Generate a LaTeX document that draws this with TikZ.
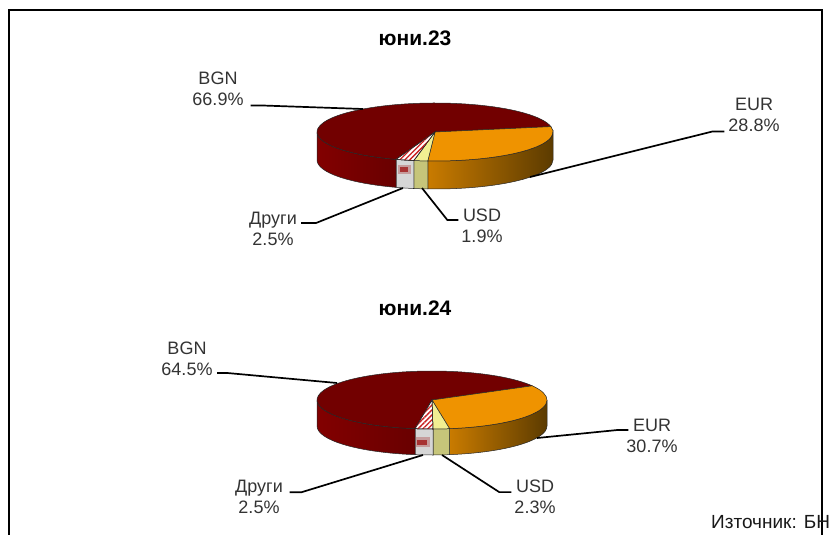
\documentclass[tikz,border=0pt]{standalone}
\usepackage{fontspec}
\setmainfont{Liberation Sans}
\usetikzlibrary{patterns.meta}

\definecolor{bgnTop}{HTML}{720000}
\definecolor{bgnSideL}{HTML}{820000}
\definecolor{bgnSideR}{HTML}{690000}
\definecolor{eurTop}{HTML}{EF9300}
\definecolor{eurSideL}{HTML}{C97B00}
\definecolor{eurSideR}{HTML}{5C3B00}
\definecolor{usdTop}{HTML}{F1EF92}
\definecolor{usdSide}{HTML}{C6C57A}
\definecolor{othSide}{HTML}{D6D6D6}
\definecolor{othHatch}{HTML}{C82020}
\definecolor{othBlob}{HTML}{A01818}
\definecolor{labelGray}{HTML}{333333}

\tikzset{
	leader/.style = {line width = 1.7pt, black},
	slice edge/.style = {draw = black!85, line width = 0.5pt},
	pct/.style = {font = \fontsize{18}{21}\selectfont, text = labelGray, align = center, inner sep = 0pt},
	title/.style = {font = \fontsize{21}{24}\selectfont\bfseries, inner sep = 0pt}
}

% side wall and top face of one slice (angles run clockwise on screen)
\newcommand{\pieSide}[3]{%
	\path [slice edge, #3] ({\pcx + \prx * cos(#1)}, {\pcy + \pry * sin(#1)})
		arc [start angle = #1, end angle = #2, x radius = \prx, y radius = \pry]
		-- ++(0, \pdep)
		arc [start angle = #2, end angle = #1, x radius = \prx, y radius = \pry] -- cycle;}
\newcommand{\pieTop}[3]{%
	\path [slice edge, #3] (\pcx, \pcy) -- ({\pcx + \prx * cos(#1)}, {\pcy + \pry * sin(#1)})
		arc [start angle = #1, end angle = #2, x radius = \prx, y radius = \pry] -- cycle;}

\begin{document}
\begin{tikzpicture}[x = 1pt, y = -1pt]

	% Frame
	
	\useasboundingbox (0, 0) rectangle (830, 535);
	\draw [line width = 2pt] (8.5, 535) -- (8.5, 10) -- (822, 10) -- (822, 535);
	
	% June 2023
	
	\node (ttlA) [title] at (415, 38) {юни.23};
	
	\def\pcx{435} \def\pcy{132} \def\prx{118} \def\pry{29} \def\pdep{28}
	
	\pieSide{0}{93.5}{left color = eurSideL, right color = eurSideR}
	\pieSide{93.5}{100.3}{fill = usdSide}
	\pieSide{100.3}{109.3}{fill = othSide}
	\pieSide{109.3}{180}{left color = bgnSideL, right color = bgnSideR}
	\fill [othBlob, opacity = 0.3] (397.5, 164.5) rectangle (411, 174);
	\fill [othBlob, opacity = 0.8] (400, 166.5) rectangle (408, 171.5);
	
	\pieTop{109.3}{349.3}{fill = bgnTop}
	\pieTop{-10.7}{93.5}{fill = eurTop}
	\pieTop{93.5}{100.3}{fill = usdTop}
	\pieTop{100.3}{109.3}{fill = white}
	\pieTop{100.3}{109.3}{pattern = {Lines[angle = 45, distance = 3.5pt, line width = 1.3pt]}, pattern color = othHatch}
	
	\node (bgnA) [pct, anchor = south] at (218, 105.5) {BGN\\66.9\%};
	\node (eurA) [pct, anchor = south] at (754, 131.5) {EUR\\28.8\%};
	\node (othA) [pct, anchor = south] at (273, 245.5) {Други\\2.5\%};
	\node (usdA) [pct, anchor = south] at (482, 242.5) {USD\\1.9\%};
	
	\coordinate (bgnA tip) at (363, 109);
	\coordinate (eurA tip) at (530, 177);
	\coordinate (othA tip) at (403, 188);
	\coordinate (usdA tip) at (422, 188);
	
	\draw [leader] ([xshift = 7] bgnA.south east) -- ++(12, 0) -- (bgnA tip);
	\draw [leader] ([xshift = -4] eurA.south west) -- ++(-12, 0) -- (eurA tip);
	\draw [leader] ([xshift = 4, yshift = 5.5] othA.east) -- ++(15, 0) -- (othA tip);
	\draw [leader] ([xshift = -3, yshift = 5.5] usdA.west) -- ++(-11, 0) -- (usdA tip);
	
	% June 2024
	
	\node (ttlB) [title] at (415, 308) {юни.24};
	
	\def\pcx{432} \def\pcy{400} \def\prx{115} \def\pry{29} \def\pdep{26}
	
	\pieSide{0}{81.2}{left color = eurSideL, right color = eurSideR}
	\pieSide{81.2}{89.5}{fill = usdSide}
	\pieSide{89.5}{98.5}{fill = othSide}
	\pieSide{98.5}{180}{left color = bgnSideL, right color = bgnSideR}
	\fill [othBlob, opacity = 0.3] (415.5, 437) rectangle (430, 447);
	\fill [othBlob, opacity = 0.8] (417, 439.5) rectangle (427, 444.5);
	
	\pieTop{98.5}{330.7}{fill = bgnTop}
	\pieTop{-29.3}{81.2}{fill = eurTop}
	\pieTop{81.2}{89.5}{fill = usdTop}
	\pieTop{89.5}{98.5}{fill = white}
	\pieTop{89.5}{98.5}{pattern = {Lines[angle = 45, distance = 3.5pt, line width = 1.3pt]}, pattern color = othHatch}
	
	\node (bgnB) [pct, anchor = south] at (187, 375.5) {BGN\\64.5\%};
	\node (eurB) [pct, anchor = south] at (652, 452.5) {EUR\\30.7\%};
	\node (othB) [pct, anchor = south] at (259, 513.5) {Други\\2.5\%};
	\node (usdB) [pct, anchor = south] at (535, 513.5) {USD\\2.3\%};
	
	\coordinate (bgnB tip) at (337, 383);
	\coordinate (eurB tip) at (537, 438);
	\coordinate (othB tip) at (423, 455);
	\coordinate (usdB tip) at (442, 455);
	
	\draw [leader] ([xshift = 4.5, yshift = 2.5] bgnB.south east) -- ++(10, 0) -- (bgnB tip);
	\draw [leader] ([xshift = 2, yshift = 5.5] eurB.west) -- ++(-11, 0) -- (eurB tip);
	\draw [leader] ([xshift = 6.5, yshift = 4.3] othB.east) -- ++(12, 0) -- (othB tip);
	\draw [leader] ([xshift = -3, yshift = 4.3] usdB.west) -- ++(-12, 0) -- (usdB tip);
	
	% Source
	
	\node (src) [pct, anchor = base west, text = black!90, font = \fontsize{19}{23}\selectfont] at (711, 528) {Източник: БНБ};
	
\end{tikzpicture}
\end{document}
